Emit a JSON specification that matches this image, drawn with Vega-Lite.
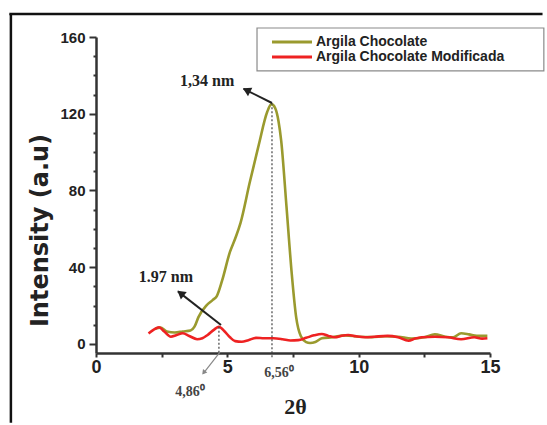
{
  "$schema": "https://vega.github.io/schema/vega-lite/v6.json",
  "width": 394,
  "height": 316,
  "autosize": "none",
  "padding": {"left": 96, "top": 37, "right": 57, "bottom": 72},
  "background": "white",
  "config": {"view": {"stroke": null}, "font": "Liberation Sans"},
  "datasets": {
    "xrd": [
      {"x": 2.25, "y": 8.0, "series": "Argila Chocolate"},
      {"x": 2.45, "y": 8.5, "series": "Argila Chocolate"},
      {"x": 2.7, "y": 6.5, "series": "Argila Chocolate"},
      {"x": 3.0, "y": 6.0, "series": "Argila Chocolate"},
      {"x": 3.3, "y": 6.5, "series": "Argila Chocolate"},
      {"x": 3.6, "y": 7.0, "series": "Argila Chocolate"},
      {"x": 3.75, "y": 9, "series": "Argila Chocolate"},
      {"x": 3.9, "y": 14, "series": "Argila Chocolate"},
      {"x": 4.2, "y": 20, "series": "Argila Chocolate"},
      {"x": 4.45, "y": 23, "series": "Argila Chocolate"},
      {"x": 4.6, "y": 25, "series": "Argila Chocolate"},
      {"x": 4.8, "y": 33, "series": "Argila Chocolate"},
      {"x": 5.1, "y": 48, "series": "Argila Chocolate"},
      {"x": 5.3, "y": 55, "series": "Argila Chocolate"},
      {"x": 5.5, "y": 63, "series": "Argila Chocolate"},
      {"x": 5.85, "y": 84, "series": "Argila Chocolate"},
      {"x": 6.2, "y": 104, "series": "Argila Chocolate"},
      {"x": 6.52, "y": 121, "series": "Argila Chocolate"},
      {"x": 6.68, "y": 125, "series": "Argila Chocolate"},
      {"x": 6.82, "y": 123, "series": "Argila Chocolate"},
      {"x": 6.95, "y": 116, "series": "Argila Chocolate"},
      {"x": 7.05, "y": 106, "series": "Argila Chocolate"},
      {"x": 7.25, "y": 72, "series": "Argila Chocolate"},
      {"x": 7.45, "y": 37, "series": "Argila Chocolate"},
      {"x": 7.62, "y": 14, "series": "Argila Chocolate"},
      {"x": 7.8, "y": 4, "series": "Argila Chocolate"},
      {"x": 8.0, "y": 1, "series": "Argila Chocolate"},
      {"x": 8.15, "y": 0.5, "series": "Argila Chocolate"},
      {"x": 8.35, "y": 1, "series": "Argila Chocolate"},
      {"x": 8.6, "y": 3, "series": "Argila Chocolate"},
      {"x": 9.0, "y": 3.5, "series": "Argila Chocolate"},
      {"x": 9.5, "y": 4.5, "series": "Argila Chocolate"},
      {"x": 10.0, "y": 3.8, "series": "Argila Chocolate"},
      {"x": 10.5, "y": 3.6, "series": "Argila Chocolate"},
      {"x": 11.0, "y": 4, "series": "Argila Chocolate"},
      {"x": 11.5, "y": 3.8, "series": "Argila Chocolate"},
      {"x": 12.0, "y": 2.8, "series": "Argila Chocolate"},
      {"x": 12.5, "y": 3.5, "series": "Argila Chocolate"},
      {"x": 12.9, "y": 5.0, "series": "Argila Chocolate"},
      {"x": 13.3, "y": 3.8, "series": "Argila Chocolate"},
      {"x": 13.6, "y": 3.5, "series": "Argila Chocolate"},
      {"x": 13.9, "y": 5.6, "series": "Argila Chocolate"},
      {"x": 14.2, "y": 5, "series": "Argila Chocolate"},
      {"x": 14.5, "y": 4.2, "series": "Argila Chocolate"},
      {"x": 14.9, "y": 4.2, "series": "Argila Chocolate"},
      {"x": 2.0, "y": 5.5, "series": "Argila Chocolate Modificada"},
      {"x": 2.2, "y": 7.5, "series": "Argila Chocolate Modificada"},
      {"x": 2.4, "y": 8.7, "series": "Argila Chocolate Modificada"},
      {"x": 2.6, "y": 6.5, "series": "Argila Chocolate Modificada"},
      {"x": 2.85, "y": 3.8, "series": "Argila Chocolate Modificada"},
      {"x": 3.05, "y": 4.5, "series": "Argila Chocolate Modificada"},
      {"x": 3.3, "y": 5.6, "series": "Argila Chocolate Modificada"},
      {"x": 3.55, "y": 4.2, "series": "Argila Chocolate Modificada"},
      {"x": 3.85, "y": 2.5, "series": "Argila Chocolate Modificada"},
      {"x": 4.05, "y": 3, "series": "Argila Chocolate Modificada"},
      {"x": 4.25, "y": 4.7, "series": "Argila Chocolate Modificada"},
      {"x": 4.5, "y": 7.5, "series": "Argila Chocolate Modificada"},
      {"x": 4.68, "y": 9, "series": "Argila Chocolate Modificada"},
      {"x": 4.9, "y": 6.5, "series": "Argila Chocolate Modificada"},
      {"x": 5.1, "y": 3.5, "series": "Argila Chocolate Modificada"},
      {"x": 5.3, "y": 1.5, "series": "Argila Chocolate Modificada"},
      {"x": 5.55, "y": 1.2, "series": "Argila Chocolate Modificada"},
      {"x": 5.8, "y": 2, "series": "Argila Chocolate Modificada"},
      {"x": 6.1, "y": 3.2, "series": "Argila Chocolate Modificada"},
      {"x": 6.4, "y": 3, "series": "Argila Chocolate Modificada"},
      {"x": 6.75, "y": 3, "series": "Argila Chocolate Modificada"},
      {"x": 7.1, "y": 2.5, "series": "Argila Chocolate Modificada"},
      {"x": 7.4, "y": 1.8, "series": "Argila Chocolate Modificada"},
      {"x": 7.7, "y": 2, "series": "Argila Chocolate Modificada"},
      {"x": 8.0, "y": 3.2, "series": "Argila Chocolate Modificada"},
      {"x": 8.3, "y": 4.5, "series": "Argila Chocolate Modificada"},
      {"x": 8.6, "y": 5.2, "series": "Argila Chocolate Modificada"},
      {"x": 8.85, "y": 4.2, "series": "Argila Chocolate Modificada"},
      {"x": 9.1, "y": 3.5, "series": "Argila Chocolate Modificada"},
      {"x": 9.35, "y": 4.3, "series": "Argila Chocolate Modificada"},
      {"x": 9.6, "y": 4.7, "series": "Argila Chocolate Modificada"},
      {"x": 9.9, "y": 4.0, "series": "Argila Chocolate Modificada"},
      {"x": 10.25, "y": 3.5, "series": "Argila Chocolate Modificada"},
      {"x": 10.6, "y": 3.8, "series": "Argila Chocolate Modificada"},
      {"x": 11.1, "y": 4.2, "series": "Argila Chocolate Modificada"},
      {"x": 11.5, "y": 3.5, "series": "Argila Chocolate Modificada"},
      {"x": 11.9, "y": 1.7, "series": "Argila Chocolate Modificada"},
      {"x": 12.15, "y": 2.8, "series": "Argila Chocolate Modificada"},
      {"x": 12.4, "y": 3.5, "series": "Argila Chocolate Modificada"},
      {"x": 12.9, "y": 3.8, "series": "Argila Chocolate Modificada"},
      {"x": 13.4, "y": 3.5, "series": "Argila Chocolate Modificada"},
      {"x": 13.9, "y": 2.5, "series": "Argila Chocolate Modificada"},
      {"x": 14.4, "y": 3.5, "series": "Argila Chocolate Modificada"},
      {"x": 14.7, "y": 2.8, "series": "Argila Chocolate Modificada"},
      {"x": 14.9, "y": 3, "series": "Argila Chocolate Modificada"}
    ],
    "frameleft": [
      {"x": -3.24, "y": 172, "y2": -41}
    ],
    "frametop": [
      {"x": -3.3, "y": 172.65, "x2": 17.0, "y2": 171.35}
    ],
    "legendbox": [
      {"x": 6.13, "y": 164.7, "x2": 17.05, "y2": 142.3}
    ],
    "guides": [
      {"x": 6.7, "y": 125.5, "y2": -7.5},
      {"x": 4.68, "y": 9, "y2": -4.5}
    ],
    "arrows": [
      {"x": 6.7, "y": 125.6, "x2": 5.62, "y2": 133.0},
      {"x": 4.76, "y": 9.9, "x2": 3.12, "y2": 27.4}
    ],
    "notes": [
      {"x": 4.23, "y": 136.9, "text": "1,34 nm"},
      {"x": 2.66, "y": 35.0, "text": "1.97 nm"}
    ],
    "angles": [
      {"x": 3.58, "y": -25.1, "text": "4,86⁰"},
      {"x": 6.97, "y": -15.2, "text": "6,56⁰"}
    ]
  },
  "encoding": {
    "x": {
      "field": "x",
      "type": "quantitative",
      "scale": {"domain": [0, 15], "nice": false, "zero": false},
      "axis": {
        "title": "2θ",
        "values": [0, 2.5, 5, 7.5, 10, 12.5, 15],
        "labelExpr": "datum.value % 5 === 0 ? datum.label : ''",
        "grid": false,
        "domainColor": "#333",
        "domainWidth": 2.5,
        "tickColor": "#333",
        "tickWidth": 2,
        "tickSize": 4,
        "labelPadding": 1,
        "labelFont": "Liberation Sans",
        "labelFontSize": 18,
        "labelFontWeight": "bold",
        "labelColor": "#222",
        "labelFlush": false,
        "labelOverlap": false,
        "titleFont": "Liberation Serif",
        "titleFontSize": 22,
        "titleFontWeight": "bold",
        "titleColor": "#222",
        "titleX": 199,
        "titleY": 53,
        "titleBaseline": "middle",
        "titleAlign": "center"
      }
    },
    "y": {
      "field": "y",
      "type": "quantitative",
      "scale": {"domain": [-4.7, 160], "nice": false, "zero": false},
      "axis": {
        "title": "Intensity (a.u)",
        "values": [0, 10, 20, 30, 40, 50, 60, 70, 80, 90, 100, 110, 120, 130, 140, 150, 160],
        "labelExpr": "datum.value % 40 === 0 ? datum.label : ''",
        "tickSize": {"condition": {"test": "datum.value % 40 === 0", "value": 7}, "value": 3},
        "grid": false,
        "domainColor": "#333",
        "domainWidth": 2.5,
        "tickColor": "#333",
        "tickWidth": 2,
        "labelPadding": 4,
        "labelFont": "Liberation Sans",
        "labelFontSize": 15,
        "labelFontWeight": "bold",
        "labelColor": "#222",
        "labelFlush": false,
        "labelOverlap": false,
        "titleFont": "DejaVu Sans",
        "titleFontSize": 24,
        "titleFontWeight": "bold",
        "titleColor": "#222",
        "titleAngle": -90,
        "titleX": -56,
        "titleY": 193,
        "titleAlign": "center",
        "titleBaseline": "middle"
      }
    }
  },
  "layer": [
    {
      "data": {"name": "frameleft"},
      "mark": {"type": "rule", "color": "#111", "strokeWidth": 2.5, "clip": false},
      "encoding": {"y2": {"field": "y2"}}
    },
    {
      "data": {"name": "frametop"},
      "mark": {"type": "rect", "fill": "#111", "strokeWidth": 0, "clip": false},
      "encoding": {"x2": {"field": "x2"}, "y2": {"field": "y2"}}
    },
    {
      "data": {"name": "legendbox"},
      "mark": {"type": "rect", "fill": "white", "stroke": "#8a8a8a", "strokeWidth": 1.2, "clip": false},
      "encoding": {"x2": {"field": "x2"}, "y2": {"field": "y2"}}
    },
    {
      "data": {"name": "xrd"},
      "mark": {"type": "line", "interpolate": "monotone", "strokeWidth": 2.6},
      "encoding": {
        "color": {
          "field": "series",
          "type": "nominal",
          "scale": {"domain": ["Argila Chocolate", "Argila Chocolate Modificada"], "range": ["#9a9a2e", "#ee2222"]},
          "legend": {
            "orient": "none",
            "legendX": 161,
            "legendY": -9,
            "title": null,
            "symbolType": "M-4,0H4",
            "symbolSize": 100,
            "symbolStrokeWidth": 3,
            "symbolOffset": 21,
            "labelOffset": 17,
            "labelFont": "Liberation Sans",
            "labelFontSize": 14,
            "labelFontWeight": "bold",
            "labelColor": "#222",
            "labelLimit": 0,
            "strokeColor": null,
            "padding": 7,
            "rowPadding": 1
          }
        },
        "detail": {"field": "series"}
      }
    },
    {
      "data": {"name": "guides"},
      "mark": {"type": "rule", "color": "#444", "strokeWidth": 1.2, "strokeDash": [2, 2]},
      "encoding": {"y2": {"field": "y2"}}
    },
    {
      "data": {"name": "arrows"},
      "mark": {"type": "rule", "color": "#222", "strokeWidth": 2},
      "encoding": {"x2": {"field": "x2"}, "y2": {"field": "y2"}}
    },
    {
      "data": {"values": [{"x": 5.73, "y": 132.3}]},
      "mark": {"type": "point", "shape": "triangle-up", "filled": true, "color": "#222", "size": 90, "angle": 297, "opacity": 1}
    },
    {
      "data": {"values": [{"x": 3.22, "y": 26.4}]},
      "mark": {"type": "point", "shape": "triangle-up", "filled": true, "color": "#222", "size": 90, "angle": 308, "opacity": 1}
    },
    {
      "data": {"values": [{"x": 4.72, "y": -4.2, "x2": 4.08, "y2": -15.4}]},
      "mark": {"type": "rule", "color": "#888", "strokeWidth": 1.2},
      "encoding": {"x2": {"field": "x2"}, "y2": {"field": "y2"}}
    },
    {
      "data": {"values": [{"x": 4.1, "y": -14.9}]},
      "mark": {"type": "point", "shape": "triangle-up", "filled": true, "color": "#888", "size": 30, "angle": 218, "opacity": 1}
    },
    {
      "data": {"name": "notes"},
      "mark": {"type": "text", "font": "Liberation Serif", "fontSize": 16, "fontWeight": "bold", "color": "#222", "align": "center", "baseline": "middle"},
      "encoding": {"text": {"field": "text"}}
    },
    {
      "data": {"name": "angles"},
      "mark": {"type": "text", "font": "Liberation Serif", "fontSize": 14, "fontWeight": "bold", "color": "#444", "align": "center", "baseline": "middle"},
      "encoding": {"text": {"field": "text"}}
    }
  ]
}
